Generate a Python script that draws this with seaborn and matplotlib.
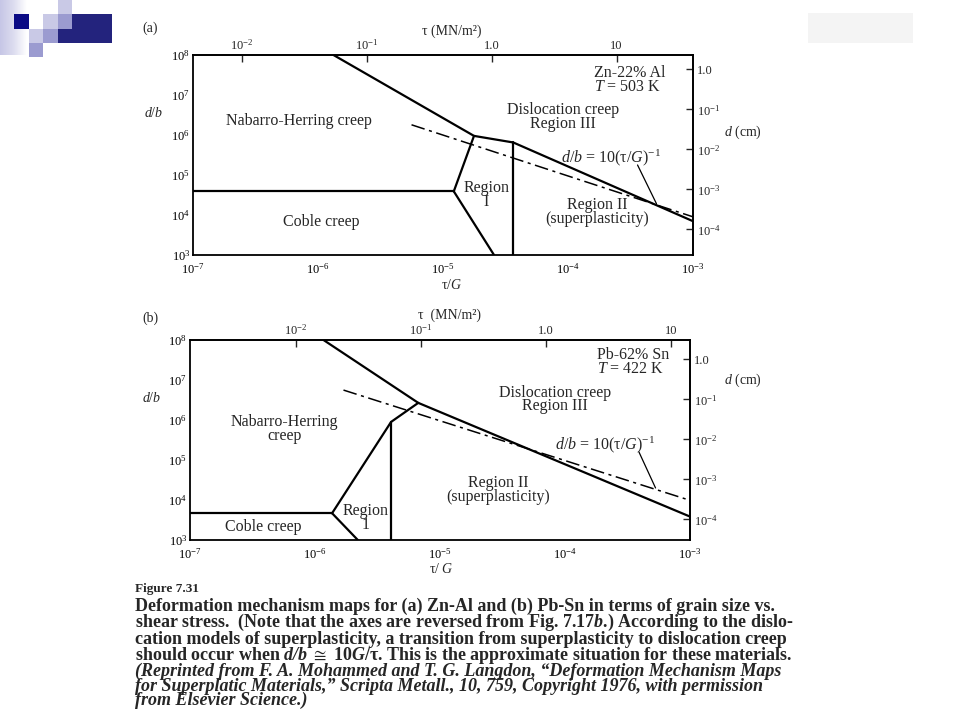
import numpy as np
import pandas as pd
import matplotlib
matplotlib.use("Agg")
import matplotlib.pyplot as plt
import seaborn as sns
from matplotlib.patches import Rectangle
from matplotlib.ticker import NullLocator


#--------------------Values---------------------------------------------
# tau/G on x, d/b on y, both log axes
x_ticks = [1e-7, 1e-6, 1e-5, 1e-4, 1e-3]
x_tick_labels = [r"$10^{-7}$", r"$10^{-6}$", r"$10^{-5}$", r"$10^{-4}$", r"$10^{-3}$"]
y_ticks = [1e3, 1e4, 1e5, 1e6, 1e7, 1e8]
y_tick_labels = [r"$10^{3}$", r"$10^{4}$", r"$10^{5}$", r"$10^{6}$", r"$10^{7}$", r"$10^{8}$"]
tau_ticks = [1e-2, 1e-1, 1.0, 10.0]
tau_tick_labels = [r"$10^{-2}$", r"$10^{-1}$", "1.0", "10"]
d_ticks = [1.0, 1e-1, 1e-2, 1e-3, 1e-4]
d_tick_labels = ["1.0", r"$10^{-1}$", r"$10^{-2}$", r"$10^{-3}$", r"$10^{-4}$"]

# shear modulus (MN/m^2) and Burgers vector (cm) implied by the secondary axes
G_a = 4.08e4
b_a = 2.3e-8
G_b = 1.42e4
b_b = 3.05e-8

# (a) Zn-22% Al, T = 503 K
a_upper_x = [1.33e-6, 1.77e-5, 3.65e-5, 1.0e-3]
a_upper_y = [1.0e8, 9.5e5, 6.5e5, 7.0e3]
a_nh_reg1_x = [1.77e-5, 1.22e-5]
a_nh_reg1_y = [9.5e5, 3.9e4]
a_coble_nh_x = [1.0e-7, 1.22e-5]
a_coble_nh_y = [3.9e4, 3.9e4]
a_coble_reg1_x = [1.22e-5, 2.56e-5]
a_coble_reg1_y = [3.9e4, 1.0e3]
a_reg1_reg2_x = [3.65e-5, 3.65e-5]
a_reg1_reg2_y = [6.5e5, 1.0e3]
a_model_x = [5.6e-6, 1.0e-3]
a_model_y = [1.8e6, 9.0e3]
a_leader_x = [3.6e-4, 5.1e-4]
a_leader_y = [1.78e5, 1.92e4]

# (b) Pb-62% Sn, T = 422 K
b_upper_x = [1.17e-6, 6.7e-6, 1.0e-3]
b_upper_y = [1.0e8, 2.68e6, 3.85e3]
b_nh_reg1_x = [6.7e-6, 4.06e-6, 1.37e-6]
b_nh_reg1_y = [2.68e6, 8.95e5, 4.67e3]
b_coble_nh_x = [1.0e-7, 1.37e-6]
b_coble_nh_y = [4.67e3, 4.67e3]
b_coble_reg1_x = [1.37e-6, 2.2e-6]
b_coble_reg1_y = [4.67e3, 1.0e3]
b_reg1_reg2_x = [4.06e-6, 4.06e-6]
b_reg1_reg2_y = [8.95e5, 1.0e3]
b_model_x = [1.69e-6, 1.0e-3]
b_model_y = [5.6e6, 9.8e3]
b_leader_x = [3.9e-4, 5.3e-4]
b_leader_y = [1.6e5, 2.0e4]


#--------------------Style-----------------------
sns.set_style("white")
plt.rcParams["font.family"] = ["Liberation Serif", "DejaVu Serif"]
plt.rcParams["mathtext.fontset"] = "custom"
plt.rcParams["mathtext.rm"] = "Liberation Serif"
plt.rcParams["mathtext.it"] = "Liberation Serif:italic"
plt.rcParams["mathtext.bf"] = "Liberation Serif:bold"
plt.rcParams["mathtext.bfit"] = "Liberation Serif:italic:bold"
plt.rcParams["mathtext.fallback"] = "stix"
plt.rcParams["axes.unicode_minus"] = True

W, H = 960, 720
fig = plt.figure(figsize=(9.6, 7.2), dpi=100)


def fx(px):
    return px / W


def fy(py):
    return 1 - py / H


#--------------------Slide decoration-----------------------
deco = fig.add_axes([0, 0, 1, 1], zorder=-5)
deco.set_xlim(0, W)
deco.set_ylim(H, 0)
deco.axis("off")
grad = np.linspace(0, 1, 64).reshape(1, -1)
deco.imshow(grad, extent=[0, 27, 55, 0], cmap=matplotlib.colors.LinearSegmentedColormap.from_list(
    "strip", ["#c6c6e6", "#dcdcef", "#ffffff"]), aspect="auto")
squares = [
    (14, 14, 15, 15, "#0b0b85"), (58, 0, 14, 14, "#c9c9e6"), (43, 14, 15, 15, "#c9c9e6"),
    (58, 14, 14, 15, "#9b9bd0"), (72, 14, 40, 29, "#23237d"), (58, 29, 14, 14, "#23237d"),
    (29, 29, 14, 14, "#c9c9e6"), (43, 29, 15, 14, "#9b9bd0"), (29, 43, 14, 14, "#9b9bd0"),
    (808, 13, 105, 30, "#f4f4f4"),
]
for sx, sy, sw, sh, sc in squares:
    deco.add_patch(Rectangle((sx, sy), sw, sh, color=sc, lw=0))


#--------------------Map axes-----------------------
def setup(ax, G, b):
    ax.set_xscale("log")
    ax.set_yscale("log")
    ax.set_xlim(1e-7, 1e-3)
    ax.set_ylim(1e3, 1e8)
    ax.set_xticks(x_ticks, x_tick_labels)
    ax.set_yticks(y_ticks, y_tick_labels)
    ax.minorticks_off()
    ax.tick_params(direction="in", length=5, width=1, labelsize=9,
                   top=False, right=False, colors="black")
    ax.tick_params(axis="x", pad=5)
    ax.tick_params(axis="y", pad=2)
    for s in ax.spines.values():
        s.set_linewidth(1.3)
        s.set_color("black")
    top = ax.secondary_xaxis("top", functions=(lambda x, G=G: x * G, lambda t, G=G: t / G))
    top.set_xticks(tau_ticks, tau_tick_labels)
    top.xaxis.set_minor_locator(NullLocator())
    top.tick_params(direction="in", length=5, width=1, labelsize=9, pad=2)
    right = ax.secondary_yaxis("right", functions=(lambda y, b=b: y * b, lambda d, b=b: d / b))
    right.set_yticks(d_ticks, d_tick_labels)
    right.yaxis.set_minor_locator(NullLocator())
    right.tick_params(direction="in", length=5, width=1, labelsize=9, pad=3)
    for sec in (top, right):
        for s in sec.spines.values():
            s.set_linewidth(1.3)


def boundary(ax, x, y, lw=1.6, ls="-"):
    sns.lineplot(x=x, y=y, ax=ax, color="black", lw=lw, linestyle=ls,
                 sort=False, estimator=None)


ax_a = fig.add_axes([fx(193), fy(255), 500 / W, 200 / H])
setup(ax_a, G_a, b_a)
for xs, ys in [(a_upper_x, a_upper_y), (a_nh_reg1_x, a_nh_reg1_y), (a_coble_nh_x, a_coble_nh_y),
               (a_coble_reg1_x, a_coble_reg1_y), (a_reg1_reg2_x, a_reg1_reg2_y)]:
    boundary(ax_a, xs, ys)
boundary(ax_a, a_model_x, a_model_y, lw=1.1, ls=(0, (9, 3, 2, 3)))
boundary(ax_a, a_leader_x, a_leader_y, lw=0.9)

ax_b = fig.add_axes([fx(190), fy(540), 500 / W, 200 / H])
setup(ax_b, G_b, b_b)
for xs, ys in [(b_upper_x, b_upper_y), (b_nh_reg1_x, b_nh_reg1_y), (b_coble_nh_x, b_coble_nh_y),
               (b_coble_reg1_x, b_coble_reg1_y), (b_reg1_reg2_x, b_reg1_reg2_y)]:
    boundary(ax_b, xs, ys)
boundary(ax_b, b_model_x, b_model_y, lw=1.1, ls=(0, (9, 3, 2, 3)))
boundary(ax_b, b_leader_x, b_leader_y, lw=0.9)

lab = dict(fontsize=11.5, ha="center", va="center", linespacing=0.82)
lab_left = dict(fontsize=11.5, ha="left", va="center", linespacing=0.82)
# (a) region names
ax_a.text(7.05e-7, 2.27e6, "Nabarro-Herring creep", **lab)
ax_a.text(9.1e-5, 2.8e6, "Dislocation creep\nRegion III", **lab)
ax_a.text(1.62e-4, 2.4e7, "Zn-22% Al\n$T$ = 503 K", **lab_left)
ax_a.text(2.22e-5, 3.1e4, "Region\nI", **lab)
ax_a.text(1.07e-6, 6.6e3, "Coble creep", **lab)
ax_a.text(1.72e-4, 1.17e4, "Region II\n(superplasticity)", **lab)
ax_a.text(2.2e-4, 2.63e5, r"$d/b$ = 10(τ/$G)^{-1}$", **lab)
# (b) region names
ax_b.text(1.8e-4, 2.8e7, "Pb-62% Sn\n$T$ = 422 K", **lab_left)
ax_b.text(8.3e-5, 3.24e6, "Dislocation creep\nRegion III", **lab)
ax_b.text(5.7e-7, 5.9e5, "Nabarro-Herring\ncreep", **lab)
ax_b.text(2.9e-5, 1.74e4, "Region II\n(superplasticity)", **lab)
ax_b.text(2.52e-6, 3.55e3, "Region\n1", **lab)
ax_b.text(3.87e-7, 2.14e3, "Coble creep", **lab)
ax_b.text(2.07e-4, 2.34e5, r"$d/b$ = 10(τ/$G)^{-1}$", **lab)

# axis titles
ax_lab = dict(fontsize=10, ha="center", va="center")
fig.text(fx(150), fy(28), "(a)", **ax_lab)
fig.text(fx(452), fy(31), "τ (MN/m²)", **ax_lab)
fig.text(fx(154), fy(113), "$d/b$", **ax_lab)
fig.text(fx(743), fy(132), "$d$ (cm)", **ax_lab)
fig.text(fx(452), fy(285), "τ/$G$", **ax_lab)
fig.text(fx(150), fy(318), "(b)", **ax_lab)
fig.text(fx(450), fy(315), "τ  (MN/m²)", **ax_lab)
fig.text(fx(152), fy(398), "$d/b$", **ax_lab)
fig.text(fx(743), fy(380), "$d$ (cm)", **ax_lab)
fig.text(fx(441), fy(569), "τ/ $G$", **ax_lab)


#--------------------Caption-----------------------
fig.text(fx(135), fy(589), "Figure 7.31", fontsize=9.5, fontweight="bold", va="center")
caption = "\n".join([
    "Deformation mechanism maps for (a) Zn-Al and (b) Pb-Sn in terms of grain size vs.",
    r"shear stress.  (Note that the axes are reversed from Fig. 7.17$\mathbfit{b}$.) According to the dislo-",
    "cation models of superplasticity, a transition from superplasticity to dislocation creep",
    r"should occur when $\mathbfit{d/b}$ $\cong$ 10$\mathbfit{G}$/τ. This is the approximate situation for these materials.",
])
reprint = "\n".join([
    "(Reprinted from F. A. Mohammed and T. G. Langdon, “Deformation Mechanism Maps",
    "for Superplatic Materials,” Scripta Metall., 10, 759, Copyright 1976, with permission",
    "from Elsevier Science.)",
])
fig.text(fx(135), fy(598), caption, fontsize=13, fontweight="bold", va="top", linespacing=0.8)
fig.text(fx(135), fy(663), reprint, fontsize=13, fontweight="bold", fontstyle="italic",
         va="top", linespacing=0.8)

fig.savefig("out.png", dpi=100)
